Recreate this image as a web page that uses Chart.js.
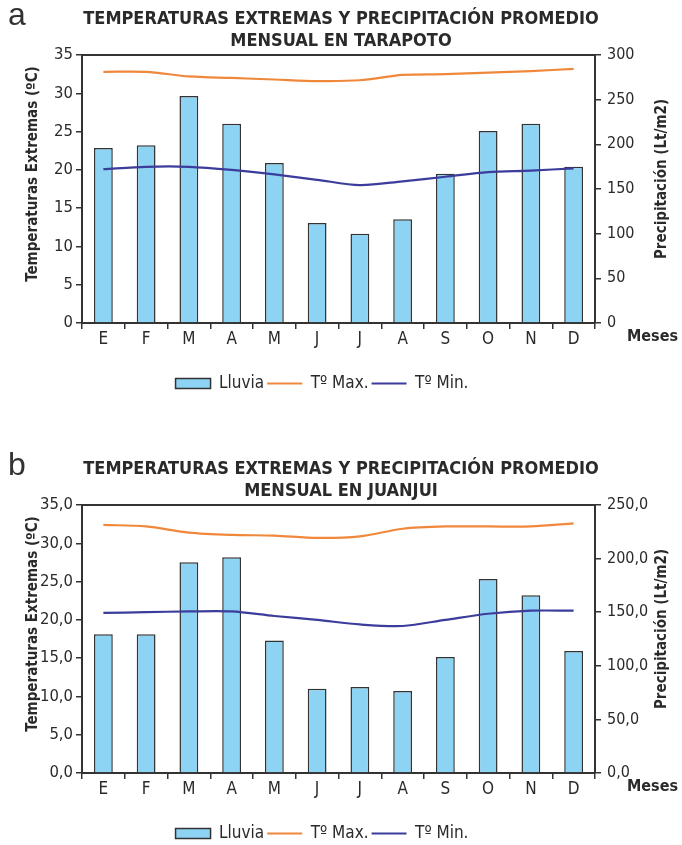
<!DOCTYPE html>
<html><head><meta charset="utf-8">
<script src="https://cdn.jsdelivr.net/npm/chart.js@4.4.1/dist/chart.umd.min.js"></script>
<style>
html,body{margin:0;padding:0;background:#fff;width:682px;height:845px;overflow:hidden;}
.panel{position:absolute;left:0;width:682px;height:402px;}
.panel canvas{position:absolute;left:0;top:0;}
.letter{position:absolute;left:8px;top:-4px;font:32px 'Liberation Sans',sans-serif;color:#333;}
.title{position:absolute;left:0;top:7px;width:682px;text-align:center;font:bold 18px 'DejaVu Sans Condensed',sans-serif;color:#2a2a2a;line-height:22px;}
.meses{position:absolute;left:627px;top:326px;font:bold 16px 'DejaVu Sans Condensed',sans-serif;color:#2a2a2a;}
.ytitle{position:absolute;width:300px;height:20px;line-height:20px;text-align:center;font:bold 15px 'DejaVu Sans Condensed',sans-serif;color:#2a2a2a;transform:rotate(-90deg);transform-origin:50% 50%;white-space:nowrap;}
</style>
</head><body>
<div class="panel" id="pa" style="top:0px;">
  <canvas id="ca" width="682" height="402"></canvas>
  <div class="letter">a</div>
  <div class="title">TEMPERATURAS EXTREMAS Y PRECIPITACIÓN PROMEDIO<br>MENSUAL EN TARAPOTO</div>
  <div class="meses">Meses</div>
  <div class="ytitle tL" style="left:-117px;top:164px;"></div>
  <div class="ytitle tR" style="left:512px;top:169px;"></div>
</div>
<div class="panel" id="pb" style="top:450px;">
  <canvas id="cb" width="682" height="402"></canvas>
  <div class="letter">b</div>
  <div class="title">TEMPERATURAS EXTREMAS Y PRECIPITACIÓN PROMEDIO<br>MENSUAL EN JUANJUI</div>
  <div class="meses">Meses</div>
  <div class="ytitle tL" style="left:-117px;top:164px;"></div>
  <div class="ytitle tR" style="left:512px;top:169px;"></div>
</div>
<script>
// ---- data ----
const months = ['E','F','M','A','M','J','J','A','S','O','N','D'];

const lluviaTarapoto = [196, 199, 254, 223, 179, 112, 100, 116, 167, 215, 223, 175];
const tmaxTarapoto   = [32.8, 32.8, 32.2, 32.0, 31.8, 31.6, 31.7, 32.4, 32.5, 32.7, 32.9, 33.2];
const tminTarapoto   = [20.1, 20.4, 20.4, 20.0, 19.4, 18.7, 18.0, 18.5, 19.1, 19.7, 19.9, 20.2];

const lluviaJuanjui = [129.5, 129.5, 196.6, 201.3, 123.6, 78.7, 80.2, 76.5, 108.3, 181.0, 165.7, 113.9];
const tmaxJuanjui   = [32.4, 32.2, 31.4, 31.1, 31.0, 30.7, 30.9, 31.9, 32.2, 32.2, 32.2, 32.6];
const tminJuanjui   = [20.9, 21.0, 21.1, 21.1, 20.5, 20.0, 19.4, 19.2, 20.0, 20.8, 21.2, 21.2];

const tempTicks = [0, 5, 10, 15, 20, 25, 30, 35];
const precipTicksTarapoto = [0, 50, 100, 150, 200, 250, 300];
const precipTicksJuanjui = [0, 50, 100, 150, 200, 250];

const seriesNames = ['Lluvia', 'Tº Max.', 'Tº Min.'];
const tempTitle = 'Temperaturas Extremas (ºC)';
const precipTitle = 'Precipitación (Lt/m2)';

document.querySelectorAll('.tL').forEach(e => e.textContent = tempTitle);
document.querySelectorAll('.tR').forEach(e => e.textContent = precipTitle);

// ---- styles ----
const FF = "'DejaVu Sans Condensed',sans-serif";
const AX = '#333333';
const TXT = '#2a2a2a';
const BAR_FILL = '#8dd3f3';
const ORANGE = '#f0883c';
const BLUE = '#3c3c9c';

const legendShift = {
  id: 'legendShift',
  afterLayout(chart) {
    const lg = chart.legend;
    if (lg) { lg.left -= 19; lg.right -= 19; }
  }
};

function makeChart(id, lluvia, tmax, tmin, tTicks, pTicks, decimals) {
  const fmt = v => decimals ? v.toFixed(1).replace('.', ',') : String(v);
  return new Chart(document.getElementById(id), {
    data: {
      labels: months,
      datasets: [
        { type: 'bar', label: seriesNames[0], data: lluvia, yAxisID: 'yP', xAxisID: 'x',
          backgroundColor: BAR_FILL, borderColor: AX, borderWidth: 1.5, borderSkipped: 'bottom',
          barPercentage: 0.44, categoryPercentage: 1.0, order: 2 },
        { type: 'line', label: seriesNames[1], data: tmax, yAxisID: 'yT', xAxisID: 'x',
          borderColor: ORANGE, backgroundColor: ORANGE, borderWidth: 2.2, pointRadius: 0,
          tension: 0.3, order: 1 },
        { type: 'line', label: seriesNames[2], data: tmin, yAxisID: 'yT', xAxisID: 'x',
          borderColor: BLUE, backgroundColor: BLUE, borderWidth: 2.2, pointRadius: 0,
          tension: 0.3, order: 1 }
      ]
    },
    options: {
      responsive: false,
      animation: false,
      events: [],
      layout: { padding: { top: 55, left: 0, right: 0, bottom: 0 } },
      plugins: {
        tooltip: { enabled: false },
        title: { display: false },
        legend: {
          display: true,
          position: 'bottom',
          labels: {
            font: { family: FF, size: 17 },
            color: TXT,
            padding: 3,
            usePointStyle: true,
            pointStyleWidth: 35,
            boxHeight: 10,
            sort: (a, b) => a.datasetIndex - b.datasetIndex,
            generateLabels(chart) {
              const items = Chart.defaults.plugins.legend.labels.generateLabels(chart);
              items.forEach(it => {
                if (it.datasetIndex === 0) {
                  it.pointStyle = 'rect'; it.fillStyle = BAR_FILL; it.strokeStyle = AX; it.lineWidth = 1.5;
                } else {
                  it.pointStyle = 'line'; it.lineWidth = 2;
                }
              });
              return items;
            }
          }
        }
      },
      scales: {
        x: {
          type: 'category',
          position: 'bottom',
          offset: true,
          grid: { display: true, offset: true, drawOnChartArea: false, drawTicks: true,
                  tickLength: 6, color: AX, lineWidth: 1.5 },
          border: { display: true, color: AX, width: 2 },
          ticks: { font: { family: FF, size: 17 }, color: TXT, padding: 0, maxRotation: 0, autoSkip: false },
          afterFit(s) { s.height = 49; }
        },
        xTop: {
          type: 'category',
          position: 'top',
          offset: true,
          labels: months,
          grid: { display: false, drawTicks: false },
          border: { display: true, color: AX, width: 2 },
          ticks: { display: false },
          afterFit(s) { s.height = 0; }
        },
        yT: {
          type: 'linear',
          position: 'left',
          min: tTicks[0], max: tTicks[tTicks.length - 1],
          afterBuildTicks(s) { s.ticks = tTicks.map(v => ({ value: v })); },
          grid: { display: true, drawOnChartArea: false, tickLength: 6, color: AX, lineWidth: 1.5 },
          border: { display: true, color: AX, width: 2 },
          ticks: { font: { family: FF, size: 16.5 }, color: TXT, padding: 3, callback: v => fmt(v) },
          afterFit(s) { s.width = 82; }
        },
        yP: {
          type: 'linear',
          position: 'right',
          min: pTicks[0], max: pTicks[pTicks.length - 1],
          afterBuildTicks(s) { s.ticks = pTicks.map(v => ({ value: v })); },
          grid: { display: true, drawOnChartArea: false, tickLength: 6, color: AX, lineWidth: 1.5 },
          border: { display: true, color: AX, width: 2 },
          ticks: { font: { family: FF, size: 16 }, color: TXT, padding: 6, callback: v => fmt(v) },
          afterFit(s) { s.width = 87; }
        }
      }
    },
    plugins: [legendShift]
  });
}

makeChart('ca', lluviaTarapoto, tmaxTarapoto, tminTarapoto, tempTicks, precipTicksTarapoto, false);
makeChart('cb', lluviaJuanjui, tmaxJuanjui, tminJuanjui, tempTicks, precipTicksJuanjui, true);
</script>
</body></html>
